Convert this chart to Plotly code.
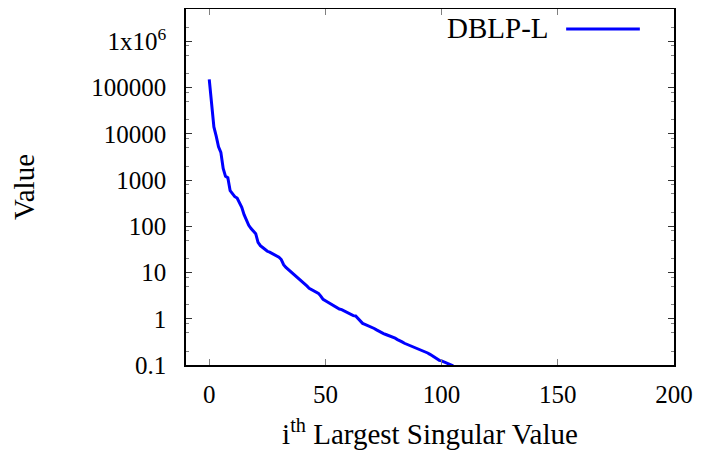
import plotly.graph_objects as go

# ---- data ----
series_name = "DBLP-L"
rank_index = list(range(0, 106))
singular_values = [
    151000, 43600, 14100, 8900, 5250, 3980, 1780, 1200, 1120, 589,
    501, 437, 407, 316, 257, 178, 132, 105, 89, 79,
    69, 45, 38, 34.7, 31.6, 28.8, 27.5, 25.7, 24.5, 23.4,
    21.4, 19.1, 14.8, 12.9, 11.7, 10.5, 9.55, 8.71, 7.59, 6.92,
    6.31, 5.75, 5.13, 4.57, 4.27, 3.98, 3.80, 3.55, 3.09, 2.63,
    2.45, 2.29, 2.09, 1.95, 1.86, 1.74, 1.62, 1.58, 1.48, 1.41,
    1.35, 1.23, 1.17, 1.15, 1.00, 0.871, 0.794, 0.759, 0.724, 0.692,
    0.661, 0.617, 0.575, 0.537, 0.501, 0.479, 0.457, 0.437, 0.422, 0.407,
    0.380, 0.355, 0.339, 0.316, 0.295, 0.282, 0.269, 0.257, 0.245, 0.234,
    0.224, 0.214, 0.204, 0.195, 0.182, 0.170, 0.158, 0.145, 0.132, 0.126,
    0.123, 0.117, 0.112, 0.107, 0.102, 0.0955,
]
x_tick_vals = [0, 50, 100, 150, 200]
x_tick_text = ["0", "50", "100", "150", "200"]
y_tick_vals = [0.1, 1, 10, 100, 1000, 10000, 100000, 1000000]
y_tick_text = ["0.1", "1", "10", "100", "1000", "10000", "100000", "1x10<sup>6</sup>"]
y_minor_vals = [m * 10.0 ** e for e in range(-1, 7) for m in (2, 5, 8)]
y_minor_vals = [v for v in y_minor_vals if v < 4.9e6]

FONT = "Liberation Serif"
TICK_FONT = dict(family=FONT, size=25, color="black")
TITLE_FONT = dict(family=FONT, size=29, color="black")

fig = go.Figure()
fig.add_trace(go.Scatter(
    x=rank_index, y=singular_values, mode="lines", name=series_name,
    line=dict(color="#0000ff", width=3), showlegend=False,
))

# the page body adds an 8px offset, so the figure is 8px smaller than the window
fig.update_layout(
    width=693, height=447,
    margin=dict(l=178, r=27, t=1, b=90, autoexpand=False),
    paper_bgcolor="white", plot_bgcolor="white",
    font=dict(family=FONT, size=25, color="black"),
    xaxis=dict(
        range=[-10, 200], tickmode="array", tickvals=x_tick_vals, ticktext=x_tick_text,
        ticks="inside", ticklen=6, tickwidth=1, tickcolor="#808080",
        showline=True, linecolor="black", linewidth=1.5, mirror="ticks",
        showgrid=False, zeroline=False, ticklabelstandoff=6, automargin=False,
        tickfont=TICK_FONT,
        title=dict(text="i<sup>th</sup> Largest Singular Value", font=TITLE_FONT, standoff=17),
    ),
    yaxis=dict(
        type="log", range=[-1, 6.699], tickmode="array", tickvals=y_tick_vals, ticktext=y_tick_text,
        ticks="inside", ticklen=6, tickwidth=1, tickcolor="#333333",
        showline=True, linecolor="black", linewidth=1.5, mirror="ticks",
        showgrid=False, zeroline=False, ticklabelstandoff=13, automargin=False,
        tickfont=TICK_FONT,
        minor=dict(tickmode="array", tickvals=y_minor_vals, ticks="inside", ticklen=3,
                   tickcolor="#808080", tickwidth=1, showgrid=False),
        title=dict(text="Value", font=TITLE_FONT, standoff=55),
    ),
)

# gnuplot-style key: label followed by line sample, top right inside the box
fig.add_annotation(xref="paper", yref="paper", x=0.748, y=0.946, text=series_name,
                   showarrow=False, xanchor="right", yanchor="middle",
                   font=TITLE_FONT)
fig.add_shape(type="line", xref="paper", yref="paper", x0=0.779, x1=0.930, y0=0.944, y1=0.944,
              line=dict(color="#0000ff", width=3))

fig.write_html("out.html")
